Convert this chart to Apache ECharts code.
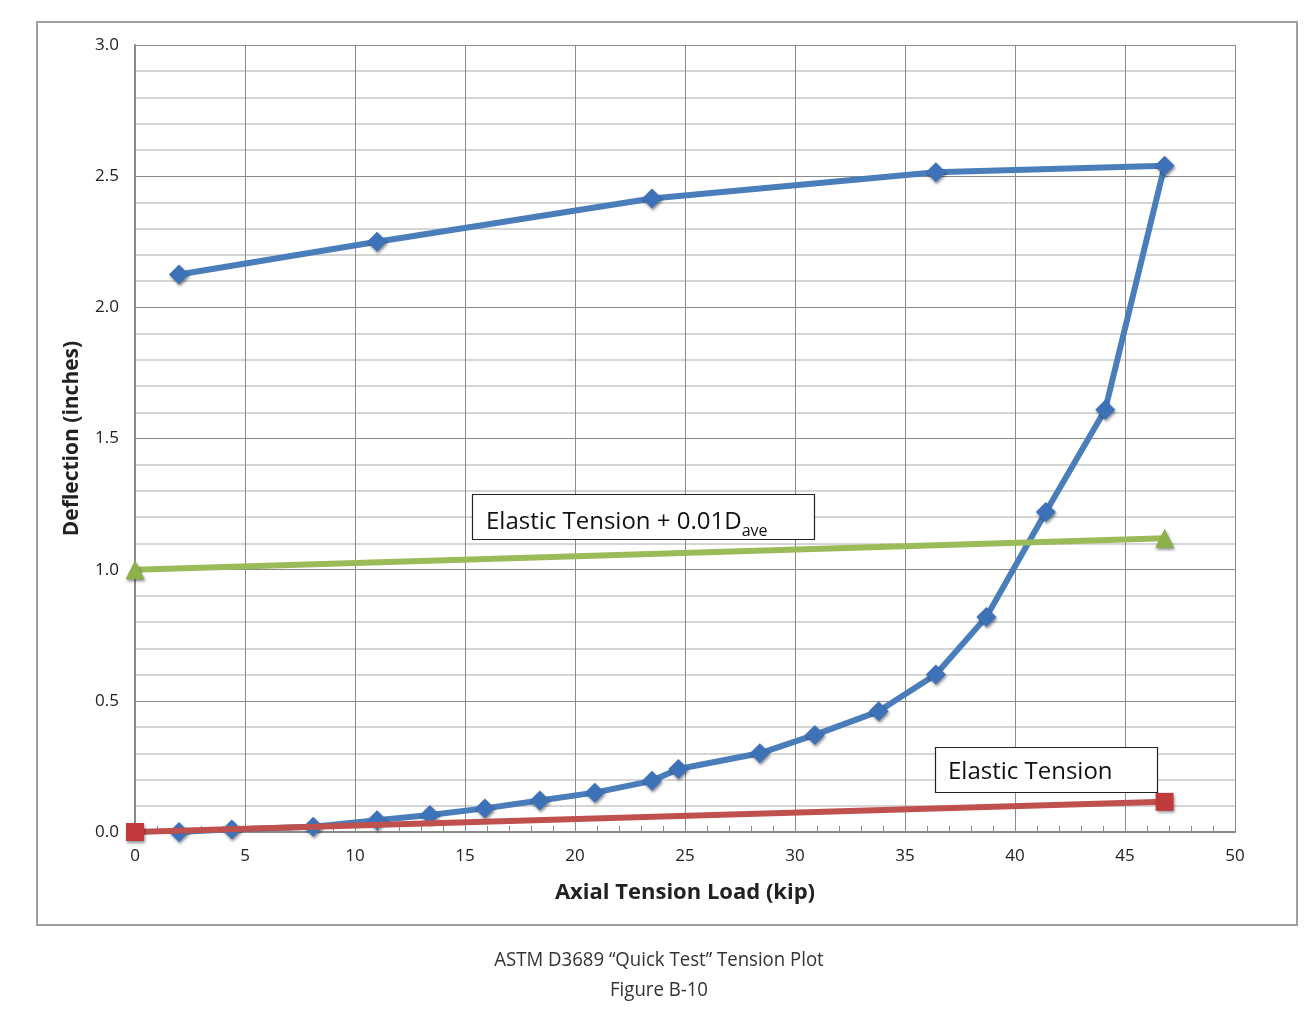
<!DOCTYPE html>
<html>
<head>
<meta charset="utf-8">
<script src="https://cdn.jsdelivr.net/npm/echarts@6/dist/echarts.min.js"></script>
<style>
html,body{margin:0;padding:0;background:#fff;}
#chart{width:1310px;height:1035px;}
</style>
</head>
<body>
<div id="chart"></div>
<script>
// Measured test: axial tension load (kip) vs deflection (inches)
const testLoad = [2.0, 4.4, 8.1, 11.0, 13.4, 15.9, 18.4, 20.9, 23.5, 24.7, 28.4, 30.9, 33.8, 36.4, 38.7, 41.4, 44.1, 46.8, 36.4, 23.5, 11.0, 2.0];
const testDefl = [0.00, 0.01, 0.02, 0.045, 0.065, 0.09, 0.12, 0.15, 0.195, 0.24, 0.30, 0.37, 0.46, 0.60, 0.82, 1.22, 1.61, 2.54, 2.515, 2.415, 2.25, 2.125];
// Elastic tension line
const elasticLoad = [0, 46.8];
const elasticDefl = [0, 0.115];
// Elastic tension + 0.01 Dave
const offsetLoad = [0, 46.8];
const offsetDefl = [1.0, 1.12];
// Axis ticks
const xTicks = {min: 0, max: 50, interval: 5};
const yTicks = {min: 0, max: 3, interval: 0.5};
const captionLines = ['ASTM D3689 \u201cQuick Test\u201d Tension Plot', 'Figure B-10'];

const zip = (a, b) => a.map((v, i) => [v, b[i]]);
const FONT = '"Open Sans", "Noto Sans", sans-serif';
const CAPFONT = '"Open Sans", "Noto Sans", sans-serif';
const shadow = {shadowBlur: 3, shadowColor: 'rgba(0,0,0,0.45)', shadowOffsetX: 1, shadowOffsetY: 2};

const chart = echarts.init(document.getElementById('chart'), null, {renderer: 'canvas'});
chart.setOption({
  backgroundColor: '#fff',
  animation: false,
  grid: {left: 135, top: 45, width: 1100, height: 787, containLabel: false},
  xAxis: {
    type: 'value', min: xTicks.min, max: xTicks.max, interval: xTicks.interval,
    name: 'Axial Tension Load (kip)', nameLocation: 'middle', nameGap: 50,
    nameTextStyle: {fontFamily: FONT, fontWeight: 'bold', fontSize: 22, color: '#222'},
    axisLine: {show: true, onZero: false, lineStyle: {color: '#8a8a8a', width: 2}},
    axisTick: {show: false, inside: true},
    minorTick: {show: true, splitNumber: 5, length: 6, lineStyle: {color: '#8a8a8a', width: 1}},
    axisLabel: {fontFamily: FONT, fontSize: 17, color: '#222', margin: 16},
    splitLine: {show: true, lineStyle: {color: '#8a8a8a', width: 1}},
    minorSplitLine: {show: false}
  },
  yAxis: {
    type: 'value', min: yTicks.min, max: yTicks.max, interval: yTicks.interval,
    name: 'Deflection (inches)', nameLocation: 'middle', nameGap: 52, nameRotate: 90,
    nameTextStyle: {fontFamily: FONT, fontWeight: 'bold', fontSize: 21, color: '#222'},
    axisLine: {show: true, onZero: false, lineStyle: {color: '#8a8a8a', width: 2}},
    axisTick: {show: false},
    axisLabel: {fontFamily: FONT, fontSize: 17, color: '#222', margin: 16, formatter: v => v.toFixed(1)},
    splitLine: {show: true, lineStyle: {color: '#8a8a8a', width: 1}},
    minorTick: {show: false, splitNumber: 5},
    minorSplitLine: {show: true, lineStyle: {color: '#c8c8c8', width: 1.5}}
  },
  series: [
    {
      type: 'line', name: 'Test', data: zip(testLoad, testDefl),
      symbol: 'diamond', symbolSize: 20,
      lineStyle: {color: '#4a7ebb', width: 6},
      itemStyle: Object.assign({color: '#3d72b8'}, shadow),
      z: 2
    },
    {
      type: 'line', name: 'Elastic Tension + 0.01Dave', data: zip(offsetLoad, offsetDefl),
      symbol: 'triangle', symbolSize: 19,
      lineStyle: {color: '#9bbb59', width: 6},
      itemStyle: Object.assign({color: '#8db04a'}, shadow),
      z: 3
    },
    {
      type: 'line', name: 'Elastic Tension', data: zip(elasticLoad, elasticDefl),
      symbol: 'rect', symbolSize: 18,
      lineStyle: {color: '#c0504d', width: 6},
      itemStyle: Object.assign({color: '#c0393b'}, shadow),
      z: 4
    }
  ],
  graphic: [
    {type: 'rect', shape: {x: 37, y: 22, width: 1260, height: 903}, style: {fill: 'none', stroke: '#a0a0a0', lineWidth: 2}, z: 0, silent: true},
    {type: 'rect', shape: {x: 472.5, y: 494.5, width: 342, height: 45}, style: {fill: '#fff', stroke: '#222', lineWidth: 1.2}, z: 10},
    {type: 'text', x: 486, y: 505, z: 11, style: {
      text: '{m|Elastic Tension + 0.01D}{s|ave}',
      rich: {
        m: {fontFamily: FONT, fontSize: 24, fill: '#111', lineHeight: 34, verticalAlign: 'middle'},
        s: {fontFamily: FONT, fontSize: 16, fill: '#111', lineHeight: 16, height: 16, verticalAlign: 'bottom'}
      }
    }},
    {type: 'rect', shape: {x: 935.5, y: 747.5, width: 222, height: 45}, style: {fill: '#fff', stroke: '#222', lineWidth: 1.2}, z: 10},
    {type: 'text', x: 948, y: 772, z: 11, style: {text: 'Elastic Tension', fontFamily: FONT, fontSize: 24, fill: '#111', textVerticalAlign: 'middle'}},
    {type: 'text', x: 659, y: 950, scaleX: 0.93, z: 11, style: {text: captionLines[0], fontFamily: CAPFONT, fontSize: 20, fill: '#333', textAlign: 'center'}},
    {type: 'text', x: 659, y: 980, scaleX: 0.93, z: 11, style: {text: captionLines[1], fontFamily: CAPFONT, fontSize: 20, fill: '#333', textAlign: 'center'}}
  ]
});
</script>
</body>
</html>
